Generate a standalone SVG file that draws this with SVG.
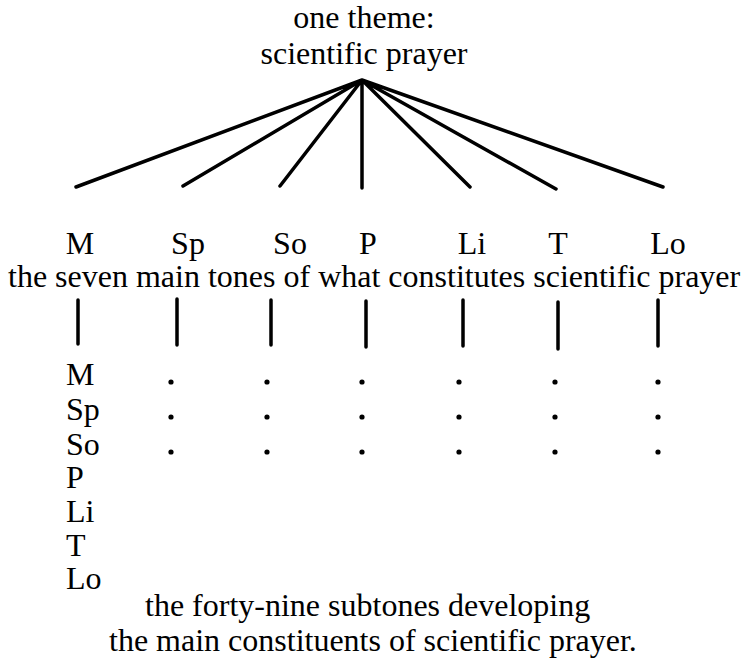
<svg xmlns="http://www.w3.org/2000/svg" width="745" height="658" viewBox="0 0 745 658">
<style>
text{font-family:"Liberation Serif","Times New Roman",serif;font-size:32px;fill:#000}
.c{text-anchor:middle}
.ln{stroke:#000;stroke-width:3.5;stroke-linecap:round;fill:none}
.dot{fill:#000}
</style>
<rect width="745" height="658" fill="#fff"/>
<g id="theme">
<text class="c" x="364" y="28">one theme:</text>
<text class="c" x="364" y="64">scientific prayer</text>
</g>
<g id="connectors">
<path class="ln" d="M362 80L76 187M362 80L183 186M362 80L280 186M362 80L362 188M362 80L470 187M362 80L556 189M362 80L663 187"/>
<path class="ln" d="M78 300V344M177 299V345M271 300V345M366 301V347M463 300V346M558 302V349M658 300V346"/>
</g>
<g id="tones">
<text class="c" x="80" y="254">M</text>
<text class="c" x="188" y="254">Sp</text>
<text class="c" x="290" y="254">So</text>
<text class="c" x="368" y="254">P</text>
<text class="c" x="472" y="254">Li</text>
<text class="c" x="558" y="254">T</text>
<text class="c" x="668" y="254">Lo</text>
<text x="8" y="287">the seven main tones of what constitutes scientific prayer</text>
</g>
<g id="subtones">
<text x="66" y="385">M</text>
<text x="66" y="420">Sp</text>
<text x="66" y="455">So</text>
<text x="66" y="488">P</text>
<text x="66" y="522">Li</text>
<text x="66" y="556">T</text>
<text x="66" y="589">Lo</text>
<g class="dot">
<circle cx="171" cy="382" r="2.6"/><circle cx="267" cy="382" r="2.6"/><circle cx="362" cy="382" r="2.6"/><circle cx="459" cy="382" r="2.6"/><circle cx="555" cy="382" r="2.6"/><circle cx="658" cy="382" r="2.6"/>
<circle cx="171" cy="417" r="2.6"/><circle cx="267" cy="417" r="2.6"/><circle cx="362" cy="417" r="2.6"/><circle cx="459" cy="417" r="2.6"/><circle cx="555" cy="417" r="2.6"/><circle cx="658" cy="417" r="2.6"/>
<circle cx="171" cy="452" r="2.6"/><circle cx="267" cy="452" r="2.6"/><circle cx="362" cy="452" r="2.6"/><circle cx="459" cy="452" r="2.6"/><circle cx="555" cy="452" r="2.6"/><circle cx="658" cy="452" r="2.6"/>
</g>
<text x="145" y="616">the forty-nine subtones developing</text>
<text x="109" y="651">the main constituents of scientific prayer.</text>
</g>
</svg>
